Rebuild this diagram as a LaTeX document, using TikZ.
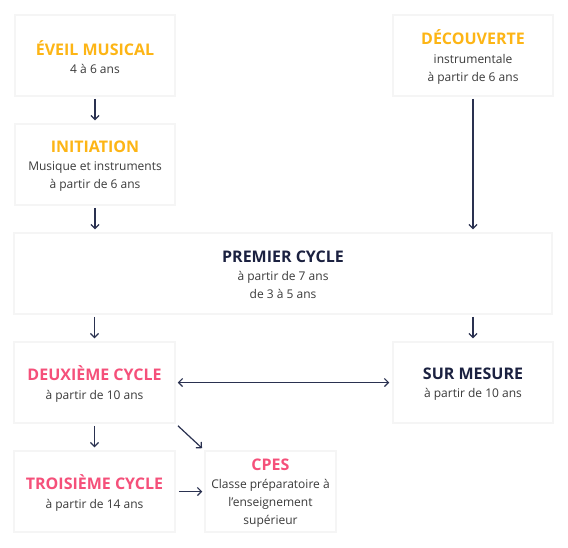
\documentclass[tikz,border=0pt]{standalone}
\usepackage{fontspec}
\setmainfont{Open Sans}
\usetikzlibrary{arrows.meta}
\definecolor{orng}{HTML}{FDB515}
\definecolor{pnk}{HTML}{F5507A}
\definecolor{navy}{HTML}{1B2140}
\definecolor{txt}{HTML}{3A3A3A}
\definecolor{arr}{HTML}{2A3150}
\newcommand{\ttl}[2]{{\fontsize{16}{18}\selectfont\bfseries\color{#1}#2}\\[0.5pt]}
\tikzset{
  box/.style={rectangle, fill=white, draw=black!4, line width=1.5pt, inner sep=0pt,
    align=center, text=txt, font=\fontsize{12}{18}\selectfont},
  btxt/.style={yshift=-1.5pt},
  conn/.style={draw=arr, line width=1.2pt, -{Straight Barb[length=4pt,width=8pt]}},
  conn2/.style={draw=arr, line width=1.2pt, {Straight Barb[length=4pt,width=8pt]}-{Straight Barb[length=4pt,width=8pt]}}
}
\begin{document}
\begin{tikzpicture}[x=1pt,y=-1pt]
\useasboundingbox[fill=white] (0,0) rectangle (568,547);
\node[box, minimum width=160pt, minimum height=81pt] (eveil) at (95,55.5) {};
\node[btxt, text=txt, align=center, font=\fontsize{12}{18}\selectfont] (eveilt) at (eveil.center) {\ttl{orng}{ÉVEIL MUSICAL}4 à 6 ans};
\node[box, minimum width=160pt, minimum height=81pt] (init) at (95,164.5) {};
\node[btxt, text=txt, align=center, font=\fontsize{12}{18}\selectfont] (initt) at (init.center) {\ttl{orng}{INITIATION}Musique et instruments\\à partir de 6 ans};
\node[box, minimum width=160pt, minimum height=81pt] (decouv) at (473,55.5) {};
\node[btxt, text=txt, align=center, font=\fontsize{12}{18}\selectfont] (decouvt) at (decouv.center) {\ttl{orng}{DÉCOUVERTE}instrumentale\\à partir de 6 ans};
\node[box, minimum width=538pt, minimum height=81pt] (premier) at (283,273.5) {};
\node[btxt, text=txt, align=center, font=\fontsize{12}{18}\selectfont] (premiert) at (premier.center) {\ttl{navy}{PREMIER CYCLE}à partir de 7 ans\\de 3 à 5 ans};
\node[box, minimum width=161pt, minimum height=81pt] (deux) at (94.5,382.5) {};
\node[btxt, text=txt, align=center, font=\fontsize{12}{18}\selectfont] (deuxt) at (deux.center) {\ttl{pnk}{DEUXIÈME CYCLE}à partir de 10 ans};
\node[box, minimum width=160pt, minimum height=81pt] (sur) at (473,382.5) {};
\node[btxt, text=txt, align=center, font=\fontsize{12}{18}\selectfont] (surt) at (sur.center) {\ttl{navy}{SUR MESURE}à partir de 10 ans};
\node[box, minimum width=161pt, minimum height=81pt] (trois) at (94.5,491.5) {};
\node[btxt, text=txt, align=center, font=\fontsize{12}{18}\selectfont] (troist) at (trois.center) {\ttl{pnk}{TROISIÈME CYCLE}à partir de 14 ans};
\node[box, minimum width=131pt, minimum height=81pt] (cpes) at (270.5,491.5) {};
\node[btxt, text=txt, align=center, font=\fontsize{12}{18}\selectfont] (cpest) at (cpes.center) {\ttl{pnk}{CPES}Classe préparatoire à\\l’enseignement\\supérieur};
\draw[conn, shorten <=2pt, shorten >=3pt] (eveil.south) -- (init.north);
\draw[conn, shorten <=2pt, shorten >=3pt] (init.south) -- (init.south |- premier.north);
\draw[conn, shorten <=2pt, shorten >=3pt] (decouv.south) -- (decouv.south |- premier.north);
\draw[conn, shorten <=2pt, shorten >=3pt] (deux.north |- premier.south) -- (deux.north);
\draw[conn, shorten <=2pt, shorten >=3pt] (sur.north |- premier.south) -- (sur.north);
\draw[conn, shorten <=2pt, shorten >=3pt] (deux.south) -- (trois.north);
\draw[conn2, shorten <=2pt, shorten >=3pt] (deux.east) -- (sur.west);
\draw[conn, shorten <=3pt, shorten >=3pt] (deux.south east) -- (cpes.north west);
\draw[conn, shorten <=3pt, shorten >=2pt] (trois.east) -- (cpes.west);
\end{tikzpicture}
\end{document}
